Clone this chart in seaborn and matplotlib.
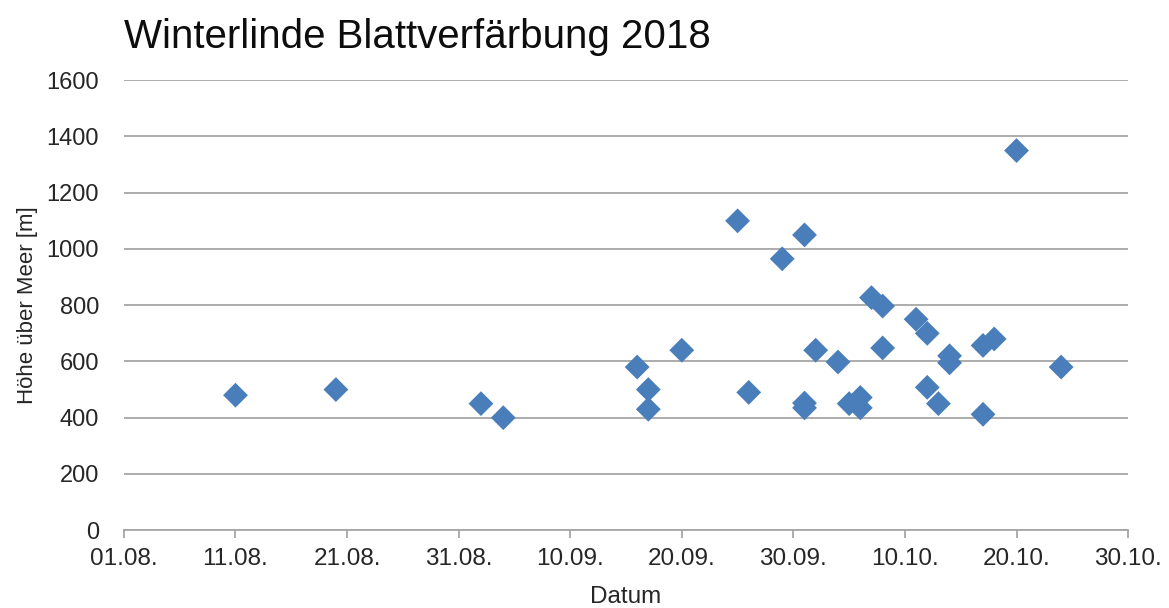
import matplotlib
matplotlib.use("Agg")
import matplotlib.pyplot as plt
import matplotlib.dates as mdates
import pandas as pd
import seaborn as sns

# Beobachtungen: Datum der Blattverfärbung und Höhe des Standorts
dates = [
    "2018-08-11", "2018-08-20", "2018-09-02", "2018-09-04", "2018-09-16",
    "2018-09-17", "2018-09-17", "2018-09-20", "2018-09-25", "2018-09-26",
    "2018-09-29", "2018-10-01", "2018-10-01", "2018-10-01", "2018-10-02",
    "2018-10-04", "2018-10-05", "2018-10-06", "2018-10-06", "2018-10-07",
    "2018-10-08", "2018-10-08", "2018-10-11", "2018-10-12", "2018-10-12",
    "2018-10-13", "2018-10-14", "2018-10-14", "2018-10-17", "2018-10-17",
    "2018-10-18", "2018-10-20", "2018-10-24",
]
heights = [
    480, 500, 450, 400, 580,
    500, 430, 640, 1100, 490,
    965, 1050, 452, 435, 640,
    598, 450, 472, 435, 827,
    797, 648, 750, 700, 508,
    450, 620, 595, 657, 412,
    680, 1350, 580,
]
x_ticks = pd.date_range("2018-08-01", "2018-10-30", freq="10D")
y_ticks = list(range(0, 1601, 200))

df = pd.DataFrame({"Datum": pd.to_datetime(dates), "Hoehe": heights})

sns.set_theme(style="white")
plt.rcParams["font.family"] = ["Liberation Sans", "DejaVu Sans"]

fig = plt.figure(figsize=(11.69, 6.08), dpi=100)
ax = fig.add_axes([0.106, 0.128, 0.859, 0.74])

sns.scatterplot(data=df, x="Datum", y="Hoehe", ax=ax, marker="D", s=160,
                color="#4a7ebb", edgecolor="none", zorder=3)

ax.set_xlim(x_ticks[0], x_ticks[-1])
ax.set_ylim(0, 1600)
ax.set_xticks(x_ticks)
ax.xaxis.set_major_formatter(mdates.DateFormatter("%d.%m."))
ax.set_yticks(y_ticks)

ax.yaxis.grid(True, color="#a6a6a6", linewidth=1.3)
ax.xaxis.grid(False)
ax.set_axisbelow(True)

for side in ("left", "right", "top"):
    ax.spines[side].set_visible(False)
ax.spines["bottom"].set_color("#a6a6a6")
ax.spines["bottom"].set_linewidth(1.3)

ax.tick_params(axis="x", bottom=True, direction="out", length=6, width=1.3,
               color="#a6a6a6", labelsize=17.5, labelcolor="#262626", pad=7)
ax.tick_params(axis="y", left=False, labelsize=17, labelcolor="#262626", pad=12)

ax.set_xlabel("Datum", fontsize=17.5, color="#262626", labelpad=11)
ax.set_ylabel("Höhe über Meer [m]", fontsize=16, color="#262626", labelpad=6)

fig.text(0.106, 0.921, "Winterlinde Blattverfärbung 2018", fontsize=29,
         color="#0d0d0d", ha="left", va="baseline")

fig.savefig("out.png", dpi=100, facecolor="white")
